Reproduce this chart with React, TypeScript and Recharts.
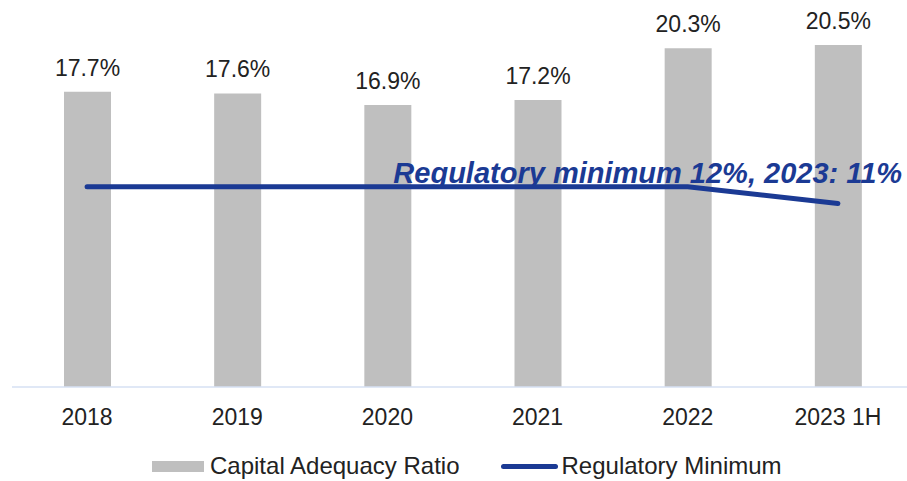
import React from 'react';
import { ComposedChart, Bar, Line, XAxis, YAxis, LabelList, Legend } from 'recharts';

const periods = ['2018', '2019', '2020', '2021', '2022', '2023 1H'];
const capitalAdequacy = [17.7, 17.6, 16.9, 17.2, 20.3, 20.5];
const regulatoryMinimum = [12, 12, 12, 12, 12, 11];
const annotation = 'Regulatory minimum 12%, 2023: 11%';

const data = periods.map((period, i) => ({
    period,
    car: capitalAdequacy[i],
    min: regulatoryMinimum[i],
}));

const FONT = '"Liberation Sans", Arial, sans-serif';
const BAR_COLOR = '#bfbfbf';
const LINE_COLOR = '#1b3a94';

const renderAnnotation = (props: any) => {
    const { x, y, index } = props;
    if (index !== 4) return null;
    return (
        <text
            x={x - 40}
            y={y - 4}
            textAnchor="middle"
            fill={LINE_COLOR}
            fontSize={29}
            fontWeight="bold"
            fontStyle="italic"
            fontFamily={FONT}
        >
            {annotation}
        </text>
    );
};

const renderLegend = () => (
    <div
        style={{
            height: 40,
            paddingTop: 10,
            boxSizing: 'border-box',
            display: 'flex',
            alignItems: 'center',
            fontFamily: FONT,
            fontSize: 24,
            lineHeight: '28px',
            color: '#222',
            whiteSpace: 'nowrap',
        }}
    >
        <span style={{ display: 'inline-block', width: 52, height: 11, background: BAR_COLOR, marginLeft: 140, marginRight: 6 }} />
        <span>Capital Adequacy Ratio</span>
        <span style={{ display: 'inline-block', width: 57, height: 5, borderRadius: 3, background: LINE_COLOR, marginLeft: 41, marginRight: 4 }} />
        <span>Regulatory Minimum</span>
    </div>
);

const App: React.FC = () => {
    return (
        <div style={{ position: 'absolute', left: 0, top: 0, width: 907, height: 481, overflow: 'hidden', background: '#fff' }}>
            <ComposedChart width={913} height={481} data={data} margin={{ top: 20, right: 0, left: 12, bottom: 0 }}>
                <XAxis
                    dataKey="period"
                    height={54}
                    tickLine={false}
                    tickMargin={16}
                    axisLine={{ stroke: '#d6e0f3', strokeWidth: 1.5 }}
                    tick={{ fill: '#222', fontSize: 23, fontFamily: FONT }}
                />
                <YAxis hide domain={[0, 22]} />
                <Legend verticalAlign="bottom" content={renderLegend} wrapperStyle={{ bottom: 0, height: 40 }} />
                <Bar dataKey="car" name="Capital Adequacy Ratio" fill={BAR_COLOR} barSize={47} isAnimationActive={false}>
                    <LabelList
                        dataKey="car"
                        position="top"
                        offset={16}
                        formatter={(v: any) => `${Number(v).toFixed(1)}%`}
                        style={{ fill: '#222', fontSize: 23, fontFamily: FONT }}
                    />
                </Bar>
                <Line
                    dataKey="min"
                    name="Regulatory Minimum"
                    stroke={LINE_COLOR}
                    strokeWidth={5}
                    strokeLinecap="round"
                    dot={false}
                    type="linear"
                    isAnimationActive={false}
                >
                    <LabelList dataKey="min" content={renderAnnotation} />
                </Line>
            </ComposedChart>
        </div>
    );
};

export default App;
